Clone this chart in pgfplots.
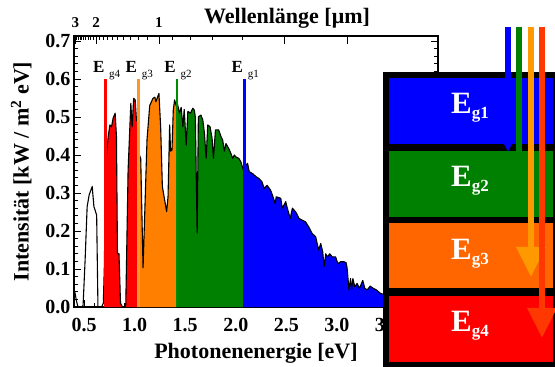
\documentclass[border=0pt]{standalone}
\usepackage{fontspec}
\setmainfont{Liberation Serif}
\usepackage{pgfplots}
\pgfplotsset{compat=1.18}
\usepackage{pgfplotstable}
\usetikzlibrary{arrows.meta}
\definecolor{cBlue}{RGB}{0,0,255}
\definecolor{cGreen}{RGB}{0,128,0}
\definecolor{cOrange}{RGB}{255,128,0}
\definecolor{cRed}{RGB}{255,0,0}
\definecolor{lOrange}{RGB}{255,102,0}
\definecolor{aOrange}{RGB}{255,153,0}
\definecolor{aRed}{RGB}{255,55,0}
\definecolor{gOrange}{RGB}{255,150,40}
\definecolor{gGreen}{RGB}{0,140,0}

\pgfplotstableread{
E I
0.400 0.045
0.410 0.037
0.425 0.015
0.440 0.000
0.480 0.000
0.490 0.005
0.510 0.124
0.530 0.264
0.550 0.295
0.580 0.317
0.597 0.264
0.624 0.242
0.637 0.000
0.673 0.000
0.690 0.010
0.700 0.106
0.714 0.375
0.738 0.448
0.755 0.479
0.771 0.474
0.787 0.497
0.807 0.510
0.820 0.448
0.830 0.141
0.845 0.140
0.860 0.010
0.880 0.000
0.905 0.000
0.912 0.005
0.935 0.360
0.962 0.536
0.975 0.474
0.990 0.549
1.005 0.545
1.018 0.490
1.037 0.490
1.047 0.400
1.060 0.390
1.083 0.103
1.122 0.440
1.149 0.530
1.181 0.549
1.200 0.552
1.210 0.540
1.240 0.562
1.257 0.474
1.274 0.317
1.316 0.251
1.330 0.290
1.346 0.479
1.355 0.410
1.369 0.413
1.382 0.518
1.395 0.545
1.410 0.530
1.420 0.538
1.444 0.510
1.460 0.525
1.477 0.474
1.490 0.520
1.510 0.426
1.526 0.515
1.552 0.510
1.575 0.523
1.590 0.518
1.600 0.500
1.618 0.194
1.630 0.500
1.655 0.505
1.674 0.492
1.690 0.457
1.707 0.391
1.723 0.479
1.746 0.474
1.766 0.443
1.779 0.391
1.799 0.466
1.831 0.466
1.854 0.448
1.870 0.440
1.887 0.410
1.903 0.430
1.930 0.417
1.952 0.404
1.969 0.391
1.985 0.400
2.000 0.395
2.030 0.391
2.050 0.382
2.075 0.360
2.085 0.365
2.100 0.373
2.117 0.378
2.133 0.356
2.166 0.351
2.200 0.343
2.230 0.338
2.260 0.329
2.280 0.312
2.310 0.320
2.345 0.307
2.368 0.290
2.390 0.272
2.400 0.290
2.445 0.286
2.460 0.260
2.494 0.277
2.510 0.260
2.538 0.233
2.560 0.260
2.593 0.250
2.626 0.233
2.660 0.228
2.690 0.224
2.723 0.210
2.756 0.193
2.790 0.185
2.805 0.167
2.820 0.150
2.840 0.167
2.860 0.145
2.873 0.106
2.890 0.140
2.905 0.132
2.930 0.140
2.954 0.132
2.987 0.132
3.010 0.114
3.036 0.119
3.070 0.119
3.090 0.117
3.100 0.105
3.120 0.045
3.135 0.075
3.145 0.045
3.158 0.075
3.177 0.053
3.200 0.062
3.223 0.049
3.256 0.070
3.276 0.049
3.300 0.045
3.330 0.055
3.360 0.049
3.390 0.045
3.430 0.036
3.500 0.030
3.700 0.020
4.000 0.010
}\spectrum

\begin{document}
\begin{tikzpicture}[x=1pt,y=1pt]
\useasboundingbox (-74pt,-60pt) rectangle (481pt,307pt);
\begin{axis}[
  scale only axis, width=364pt, height=271pt,
  xmin=0.4, xmax=4.0, ymin=0, ymax=0.713,
  axis line style={line width=1.2pt},
  xtick={0.5,1.0,1.5,2.0,2.5,3.0,3.5}, minor x tick num=4,
  ytick={0,0.1,0.2,0.3,0.4,0.5,0.6,0.7}, minor y tick num=4,
  xtick pos=bottom, ytick pos=both,
  tick align=inside,
  major tick length=7pt, minor tick length=4pt,
  tick style={black, line width=0.8pt},
  /pgf/number format/assume math mode=true,
  ticklabel style={font=\bfseries\fontsize{20}{20}\selectfont},
  xticklabel style={yshift=-8pt,/pgf/number format/fixed,/pgf/number format/fixed zerofill,/pgf/number format/precision=1},
  yticklabel style={/pgf/number format/fixed,/pgf/number format/fixed zerofill,/pgf/number format/precision=1},
  xlabel={Photonenenergie [eV]},
  ylabel={Intensität [kW / m\textsuperscript{2} eV]},
  label style={font=\bfseries\fontsize{22}{22}\selectfont},
  xlabel style={yshift=-4pt},
  ylabel style={yshift=7pt},
  clip=true,
]
\addplot[draw=none, fill=cRed] table[x=E,y=I, restrict x to domain=0.7139:1.0371] {\spectrum} \closedcycle;
\addplot[draw=none, fill=cOrange] table[x=E,y=I, restrict x to domain=1.0369:1.4201] {\spectrum} \closedcycle;
\addplot[draw=none, fill=cGreen] table[x=E,y=I, restrict x to domain=1.4199:2.0851] {\spectrum} \closedcycle;
\addplot[draw=none, fill=cBlue] table[x=E,y=I, restrict x to domain=2.0849:4.0] {\spectrum} \closedcycle;
\addplot[black, line width=1.1pt, line join=round] table[x=E,y=I] {\spectrum};
\addplot[cRed, line width=2.6pt] coordinates {(0.714,0) (0.714,0.6)};
\addplot[gOrange, line width=2.6pt] coordinates {(1.037,0) (1.037,0.6)};
\addplot[gGreen, line width=2.6pt] coordinates {(1.420,0) (1.420,0.6)};
\addplot[cBlue, line width=2.6pt] coordinates {(2.085,0) (2.085,0.6)};
\foreach \xx/\nn in {0.714/4,1.037/3,1.420/2,2.085/1}{
  \edef\temp{\noexpand\node[font=\noexpand\bfseries\noexpand\fontsize{17}{17}\noexpand\selectfont, xshift=-7pt] at (axis cs:\xx,0.632) {E};
  \noexpand\node[font=\noexpand\fontsize{11}{11}\noexpand\selectfont, xshift=9pt] at (axis cs:\xx,0.610) {g\nn};}
  \temp
}
\end{axis}
\begin{axis}[
  scale only axis, width=364pt, height=271pt,
  xmin=0.4, xmax=4.0, ymin=0, ymax=0.713,
  axis x line*=top, axis y line=none,
  axis line style={line width=1.2pt},
  tick align=inside,
  major tick length=8pt, minor tick length=4pt,
  tick style={black, line width=0.8pt},
  xtick={0.41333,0.62,1.24,2.48,3.1},
  xticklabels={3,2,1,,},
  minor xtick={0.42759,0.44286,0.45926,0.47692,0.496,0.51667,0.53913,0.56364,0.59048,
    0.65263,0.68889,0.72941,0.775,0.82667,0.88571,0.95385,1.03333,1.12727,
    1.37778,1.55,1.77143,2.06667},
  ticklabel style={font=\bfseries\fontsize{15}{15}\selectfont},
  xticklabel style={yshift=5pt},
]
\addplot[draw=none] coordinates {(1,0.1)};
\end{axis}
\node[font=\bfseries\fontsize{22}{22}\selectfont] at (213pt,289pt) {Wellenlänge [μm]};
% layered cell diagram
\fill[black] (309pt,-70pt) rectangle (500pt,235pt);
\fill[cBlue] (315pt,163pt) rectangle (479pt,229pt);
\fill[cGreen] (315pt,90pt) rectangle (479pt,156pt);
\fill[lOrange] (315pt,19pt) rectangle (479pt,84pt);
\fill[cRed] (315pt,-55pt) rectangle (479pt,11pt);
\foreach \yy/\nn in {199/1,126/2,53/3,-19/4}{
  \node[white, font=\bfseries\fontsize{31}{31}\selectfont] at (396pt,\yy pt) {E\raisebox{-5pt}{\fontsize{17}{17}\selectfont g\nn}};
}
\draw[cBlue, line width=6.5pt, -{Triangle[width=9pt,length=10pt]}] (434pt,280pt) -- (434pt,155pt);
\draw[cGreen, line width=6.5pt] (445pt,280pt) -- (445pt,110pt);
\draw[aOrange, line width=6.5pt, -{Triangle[width=28pt,length=30pt]}] (457pt,280pt) -- (457pt,30pt);
\draw[aRed, line width=6.5pt, -{Triangle[width=28pt,length=30pt]}] (468pt,280pt) -- (468pt,-31pt);
\end{tikzpicture}
\end{document}
